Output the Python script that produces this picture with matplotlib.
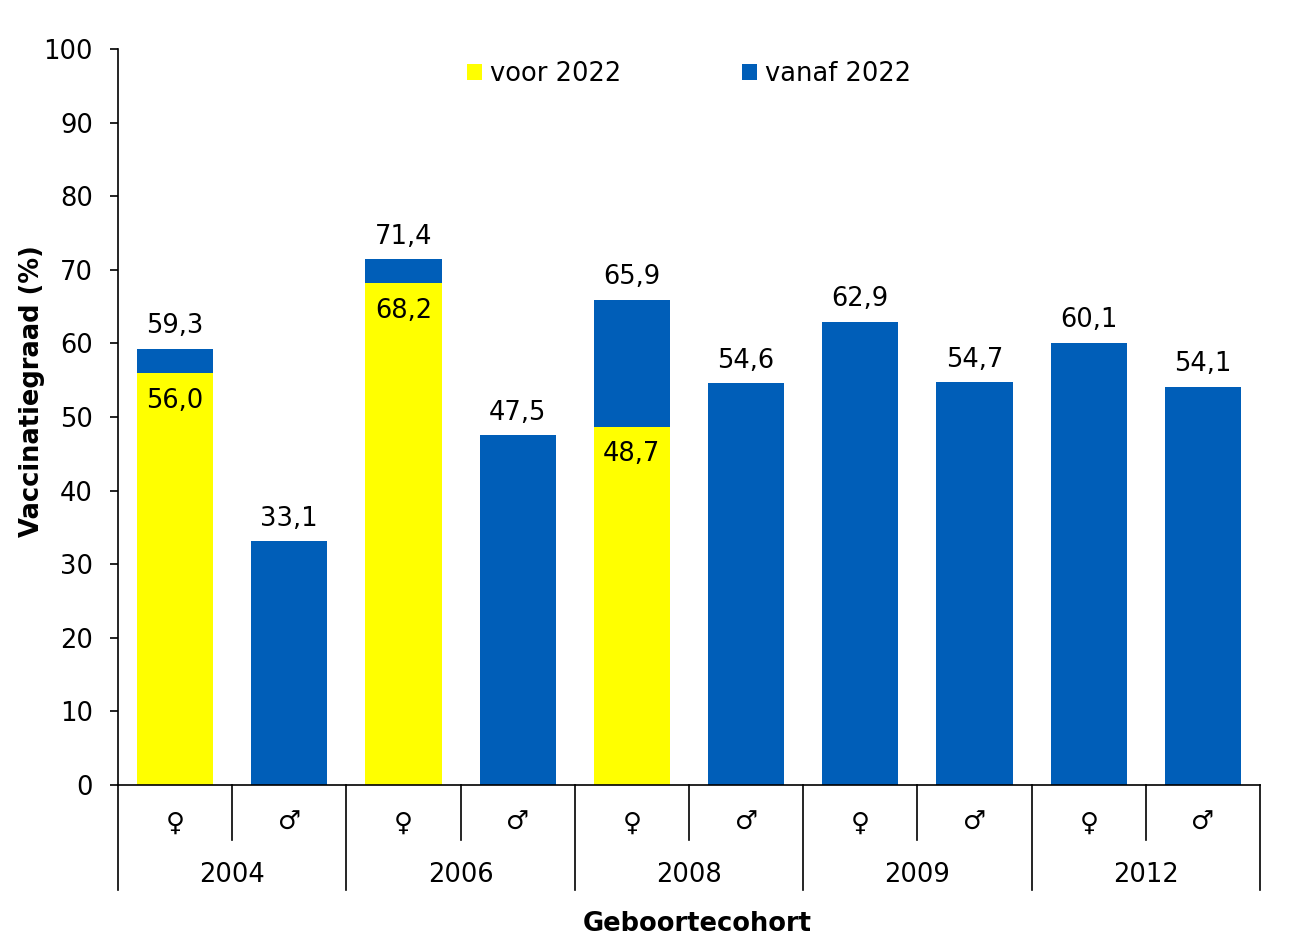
import matplotlib.pyplot as plt
import numpy as np

years = ["2004", "2006", "2008", "2009", "2012"]
sexes = ["♀", "♂"]
voor_2022 = [56.0, 0.0, 68.2, 0.0, 48.7, 0.0, 0.0, 0.0, 0.0, 0.0]
totaal = [59.3, 33.1, 71.4, 47.5, 65.9, 54.6, 62.9, 54.7, 60.1, 54.1]
vanaf_2022 = [t - v for t, v in zip(totaal, voor_2022)]

yellow = "#FFFF00"
blue = "#005EB8"

fig = plt.figure(figsize=(12.99, 9.42), dpi=100)
ax = fig.add_axes([0.0908, 0.1667, 0.8792, 0.7813])

x = np.arange(len(totaal))
w = 0.667
ax.bar(x, voor_2022, w, color=yellow, label="voor 2022")
ax.bar(x, vanaf_2022, w, bottom=voor_2022, color=blue, label="vanaf 2022")

fs = 18.5
for xi, t, v in zip(x, totaal, voor_2022):
    ax.text(xi, t + 1.3, f"{t:.1f}".replace(".", ","), ha="center", va="bottom", fontsize=fs)
    if v > 0:
        ax.text(xi, v - 2.0, f"{v:.1f}".replace(".", ","), ha="center", va="top", fontsize=fs)

ax.set_xlim(-0.5, len(totaal) - 0.5)
ax.set_ylim(0, 100)
ax.set_yticks(np.arange(0, 101, 10))
ax.tick_params(axis="y", labelsize=fs, direction="out", length=6, width=1.2, pad=12)
ax.set_xticks([])
for s in ["top", "right"]:
    ax.spines[s].set_visible(False)
ax.spines["left"].set_linewidth(1.2)
ax.spines["bottom"].set_linewidth(1.2)
ax.set_ylabel("Vaccinatiegraad (%)", fontsize=fs, fontweight="bold")
ax.yaxis.set_label_coords(-0.064, 0.535)

# category axis with two levels
tr = ax.get_xaxis_transform()
for i in range(len(years)):
    xs = 2 * i + 0.5
    ax.plot([xs, xs], [0, -0.0747], color="black", lw=1.2, transform=tr, clip_on=False)
for i in range(len(years) + 1):
    xs = 2 * i - 0.5
    ax.plot([xs, xs], [0, -0.1427], color="black", lw=1.2, transform=tr, clip_on=False)
for i, yr in enumerate(years):
    for j, s in enumerate(sexes):
        ax.text(2 * i + j, -0.052, s, ha="center", va="center", fontsize=fs, transform=tr)
    ax.text(2 * i + 0.5, -0.123, yr, ha="center", va="center", fontsize=fs, transform=tr)
fig.text(0.5367, 0.019, "Geboortecohort", ha="center", va="center", fontsize=fs, fontweight="bold")

ax.legend(loc="upper center", bbox_to_anchor=(0.5, 1.015), ncol=2, frameon=False, fontsize=fs,
          handlelength=0.6, handleheight=0.6, handletextpad=0.3, columnspacing=4.7)

plt.savefig("out.png", dpi=100)
